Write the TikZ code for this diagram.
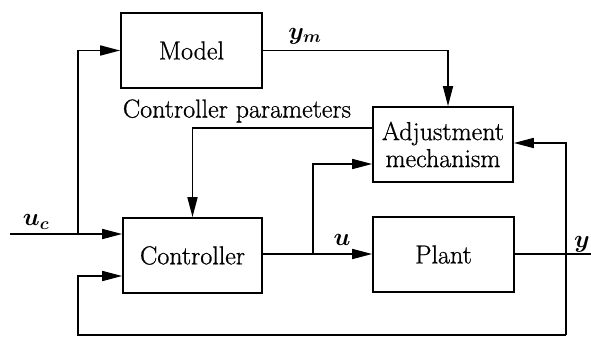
\documentclass[tikz,border=0pt]{standalone}
\usepackage{amsmath,bm}
\usepackage{fontspec}
\setmainfont{Latin Modern Roman}[FakeBold=0.8]
\usetikzlibrary{arrows.meta}
\begin{document}
\begin{tikzpicture}[x=1pt,y=-1pt,
  line width=1.7pt,
  every node/.style={font=\fontsize{26}{28}\selectfont},
  blk/.style={draw,rectangle,minimum height=75pt,inner sep=0pt,align=center},
  sig/.style={-{Triangle[length=20pt,width=10pt]}},
  lbl/.style={inner sep=0pt}]
\useasboundingbox (0,0) rectangle (591,337);

% blocks
\node[blk,minimum width=141pt] (model) at (191.5,50.5) {Model};
\node[blk,minimum width=140pt,font=\fontsize{26}{27}\selectfont] (adj) at (443,144.5) {Adjustment\\mechanism};
\node[blk,minimum width=139pt] (ctrl) at (192.5,255.5) {Controller};
\node[blk,minimum width=141pt] (plant) at (443.5,254.5) {Plant};

% junctions and free ends
\coordinate (uin) at (10,234);
\coordinate (jc) at (78,234);
\coordinate (ju) at (313,254);
\coordinate (yout) at (591,254);
\coordinate (jy) at (566,254);

% reference input u_c
\draw (uin) -- (jc);
\draw[sig] (jc) -- (ctrl.west |- jc);
\draw[sig] (jc) |- (model.west);

% model output y_m
\draw[sig] (model.east) -| (448,0 |- adj.north);

% controller parameters
\draw[sig] (adj.west |- 0,128) -| (ctrl.north);

% control signal u
\draw (ctrl.east |- ju) -- (ju);
\draw[sig] (ju) -- (plant.west |- ju);
\draw[sig] (ju) |- (adj.west |- 0,164);

% plant output y and feedback
\draw (plant.east |- jy) -- (yout);
\draw[sig] (jy |- 0,335) -- (jy) |- (adj.east |- 0,143);
\draw[sig] (jy |- 0,335) -- (78,335) |- (ctrl.west |- 0,276);

% labels
\node[lbl] at (36,222) {$\bm{u_c}$};
\node[lbl] at (305,36) {$\bm{y_m}$};
\node[lbl,anchor=west] at (122,111) {Controller parameters};
\node[lbl] at (342,240) {$\bm{u}$};
\node[lbl] at (582,244) {$\bm{y}$};
\end{tikzpicture}
\end{document}
